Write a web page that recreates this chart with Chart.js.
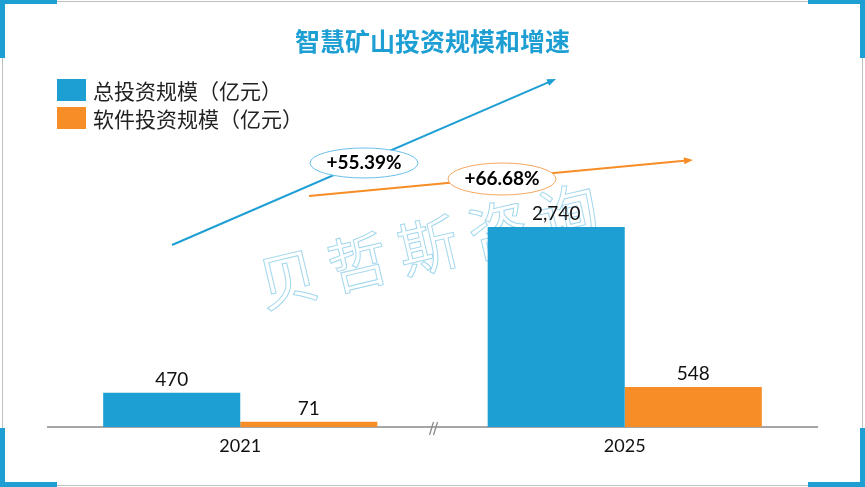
<!DOCTYPE html>
<html lang="zh-CN">
<head>
    <meta charset="UTF-8">
    <title>智慧矿山投资规模和增速</title>
    <script src="https://cdn.jsdelivr.net/npm/chart.js"></script>
    <style>
        html, body { margin: 0; padding: 0; background: #fff; overflow: hidden; }
        #wrap { position: relative; width: 865px; height: 487px; }
        #chart { position: absolute; left: 0; top: 0; }
        #title {
            position: absolute; left: 0; top: 26px; width: 865px; text-align: center;
            font-family: "Noto Sans CJK SC", sans-serif; font-weight: bold; font-size: 25px;
            line-height: 28px; color: #1E9FD4;
        }
        #legend {
            position: absolute; left: 57px; top: 79px;
            font-family: "Noto Sans CJK SC", sans-serif; font-size: 21px; color: #222;
        }
        .item { display: flex; align-items: center; height: 22px; margin-bottom: 6px; }
        .box { width: 29px; height: 22px; margin-right: 7px; }
    </style>
</head>
<body>
<div id="wrap">
    <canvas id="chart" width="865" height="487"></canvas>
    <div id="title">智慧矿山投资规模和增速</div>
    <div id="legend"></div>
</div>

<script>
    // data
    const years = ['2021', '2025'];
    const totalInvest = [470, 2740];
    const softwareInvest = [71, 548];
    const seriesNames = ['总投资规模（亿元）', '软件投资规模（亿元）'];
    const growthLabels = ['+55.39%', '+66.68%'];

    const BLUE = '#1E9FD4';
    const ORANGE = '#F68D26';

    // html legend
    const legendEl = document.getElementById('legend');
    [BLUE, ORANGE].forEach((c, i) => {
        const row = document.createElement('div');
        row.className = 'item';
        row.innerHTML = '<span class="box" style="background:' + c + '"></span><span>' + seriesNames[i] + '</span>';
        legendEl.appendChild(row);
    });

    function arrow(ctx, x1, y1, x2, y2, color) {
        const a = Math.atan2(y2 - y1, x2 - x1);
        ctx.strokeStyle = color;
        ctx.fillStyle = color;
        ctx.lineWidth = 2;
        ctx.beginPath();
        ctx.moveTo(x1, y1);
        ctx.lineTo(x2 - 6 * Math.cos(a), y2 - 6 * Math.sin(a));
        ctx.stroke();
        ctx.beginPath();
        ctx.moveTo(x2, y2);
        ctx.lineTo(x2 - 9 * Math.cos(a) + 3.5 * Math.sin(a), y2 - 9 * Math.sin(a) - 3.5 * Math.cos(a));
        ctx.lineTo(x2 - 9 * Math.cos(a) - 3.5 * Math.sin(a), y2 - 9 * Math.sin(a) + 3.5 * Math.cos(a));
        ctx.closePath();
        ctx.fill();
    }

    function bubble(ctx, cx, cy, rx, ry, stroke, text) {
        ctx.beginPath();
        ctx.ellipse(cx, cy, rx, ry, 0, 0, Math.PI * 2);
        ctx.fillStyle = '#fff';
        ctx.fill();
        ctx.strokeStyle = stroke;
        ctx.lineWidth = 1;
        ctx.stroke();
        ctx.fillStyle = '#000';
        ctx.font = 'bold 19px Lato, sans-serif';
        ctx.textAlign = 'center';
        ctx.textBaseline = 'middle';
        ctx.fillText(text, cx, cy);
    }

    const decor = {
        id: 'decor',
        beforeDraw(chart) {
            const ctx = chart.ctx;
            ctx.save();
            ctx.fillStyle = '#fff';
            ctx.fillRect(0, 0, chart.width, chart.height);
            // frame
            ctx.strokeStyle = '#BFBFBF';
            ctx.lineWidth = 1;
            ctx.strokeRect(2.5, 1.5, 860, 484);
            // corner brackets
            ctx.fillStyle = BLUE;
            ctx.fillRect(0, 0, 57, 4);
            ctx.fillRect(0, 0, 5, 58);
            ctx.fillRect(808, 0, 57, 4);
            ctx.fillRect(860, 0, 5, 58);
            ctx.fillRect(0, 482, 57, 5);
            ctx.fillRect(0, 428, 5, 59);
            ctx.fillRect(808, 482, 57, 5);
            ctx.fillRect(860, 428, 5, 59);
            ctx.restore();
        },
        beforeDatasetsDraw(chart) {
            // watermark
            const ctx = chart.ctx;
            ctx.save();
            ctx.font = '60px "Noto Sans CJK SC", sans-serif';
            ctx.textAlign = 'center';
            ctx.textBaseline = 'middle';
            ctx.strokeStyle = 'rgba(30,159,212,0.42)';
            ctx.lineWidth = 1;
            const chars = '贝哲斯咨询'.split('');
            const ang = -13.3 * Math.PI / 180;
            chars.forEach((ch, i) => {
                ctx.save();
                ctx.translate(288 + i * 70, 279 - i * 16.5);
                ctx.rotate(ang);
                ctx.strokeText(ch, 0, 0);
                ctx.restore();
            });
            ctx.restore();
        },
        afterDatasetsDraw(chart) {
            const ctx = chart.ctx;
            ctx.save();
            // value labels
            ctx.fillStyle = '#111';
            ctx.font = '19px Lato, sans-serif';
            ctx.textAlign = 'center';
            ctx.textBaseline = 'middle';
            chart.data.datasets.forEach((ds, di) => {
                chart.getDatasetMeta(di).data.forEach((bar, i) => {
                    ctx.fillText(ds.data[i].toLocaleString('en-US'), bar.x, bar.y - 13);
                });
            });
            // axis break
            const xs = chart.scales.x;
            const bx = (xs.getPixelForValue(0) + xs.getPixelForValue(1)) / 2;
            const by = chart.chartArea.bottom;
            ctx.strokeStyle = '#8C8C8C';
            ctx.lineWidth = 1.3;
            ctx.beginPath();
            ctx.moveTo(bx - 3, by + 8); ctx.lineTo(bx + 1, by - 5);
            ctx.moveTo(bx + 1, by + 8); ctx.lineTo(bx + 5, by - 5);
            ctx.stroke();
            // growth arrows
            arrow(ctx, 172, 245, 556, 79, BLUE);
            arrow(ctx, 309, 196, 693, 160, ORANGE);
            bubble(ctx, 364, 163, 54, 15, '#6CC0E8', growthLabels[0]);
            bubble(ctx, 502, 179, 54, 16, '#F5AA62', growthLabels[1]);
            ctx.restore();
        }
    };

    new Chart(document.getElementById('chart'), {
        type: 'bar',
        data: {
            labels: years,
            datasets: [
                { label: seriesNames[0], data: totalInvest, backgroundColor: BLUE,
                  barPercentage: 1, categoryPercentage: 0.713 },
                { label: seriesNames[1], data: softwareInvest, backgroundColor: ORANGE,
                  barPercentage: 1, categoryPercentage: 0.713 }
            ]
        },
        options: {
            responsive: false,
            animation: false,
            layout: { padding: { top: 127, left: 48, right: 48, bottom: 0 } },
            plugins: {
                legend: { display: false },
                tooltip: { enabled: false }
            },
            scales: {
                x: {
                    grid: { display: false, drawTicks: false },
                    border: { display: true, color: '#A6A6A6', width: 2 },
                    ticks: { color: '#111', padding: 8, font: { family: 'Lato', size: 18 } },
                    afterFit: s => { s.height = 60; }
                },
                y: { display: false, min: 0, max: 4110 }
            }
        },
        plugins: [decor]
    });
</script>
</body>
</html>
